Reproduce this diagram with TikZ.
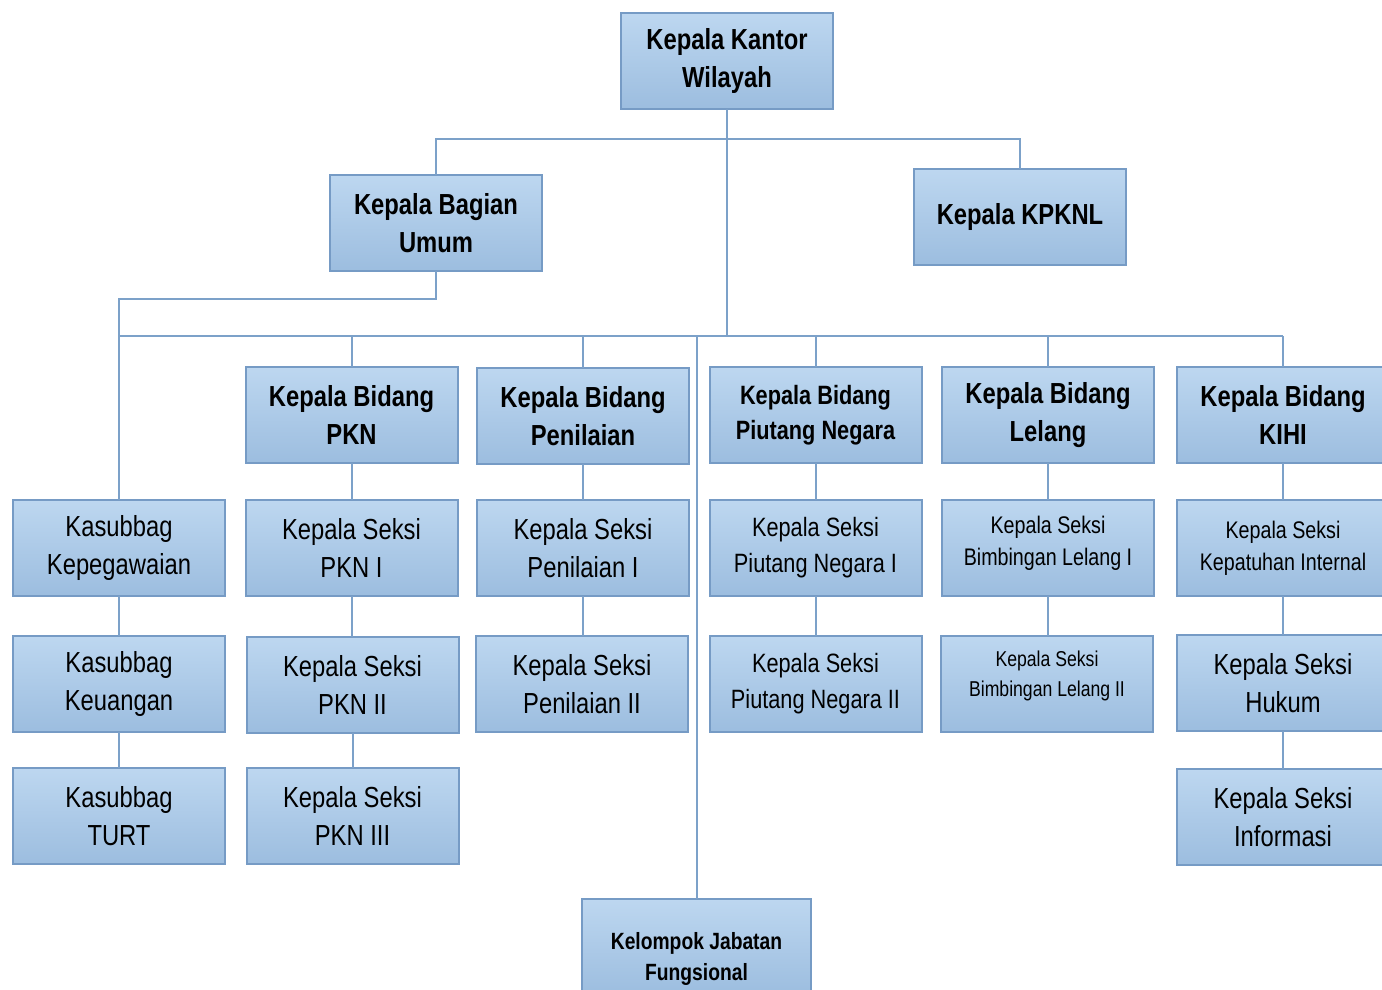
\documentclass[tikz,border=0pt]{standalone}
\usepackage{fontspec}
\setmainfont{Liberation Sans}[FakeStretch=0.82]

\definecolor{garisbiru}{RGB}{124,161,201}
\definecolor{tepibiru}{RGB}{118,155,197}
\definecolor{atasbiru}{RGB}{189,215,240}
\definecolor{bawahbiru}{RGB}{156,189,223}

\tikzset{
	kotak/.style={draw=tepibiru, line width=2pt, top color=atasbiru, bottom color=bawahbiru,
		minimum width=212pt, minimum height=96pt, inner sep=2pt, outer sep=0pt, align=center},
	tebal/.style={font={\bfseries\fontsize{29}{38}\selectfont}},
	biasa/.style={font={\fontsize{29}{38}\selectfont}},
	sedang/.style={font={\fontsize{26.5}{36}\selectfont}},
	kecil/.style={font={\fontsize{24}{32}\selectfont}},
	garis/.style={draw=garisbiru, line width=2pt},
}

\begin{document}
\begin{tikzpicture}[x=1pt, y=-1pt]
	\clip (0,0) rectangle (1382,989);

	% pimpinan
	\node[kotak,tebal] (kakanwil) at (727,61) {Kepala Kantor\\Wilayah};
	\node[kotak,tebal] (kabag) at (436,223) {Kepala Bagian\\Umum};
	\node[kotak,tebal] (kpknl) at (1020,217) {Kepala KPKNL};

	% kepala bidang
	\node[kotak,tebal] (pkn) at (351.5,415) {Kepala Bidang\\PKN};
	\node[kotak,tebal] (penilaian) at (583,416) {Kepala Bidang\\Penilaian};
	\node[kotak,font={\bfseries\fontsize{26.5}{35}\selectfont}] (piutang) at (815.5,415) {Kepala Bidang\\Piutang Negara};
	\node[kotak,tebal] (lelang) at (1048,415) {Kepala Bidang\\Lelang};
	\node[kotak,tebal] (kihi) at (1283,415) {Kepala Bidang\\KIHI};

	% kasubbag dan kepala seksi
	\node[kotak,biasa] (kepeg) at (119,548) {Kasubbag\\Kepegawaian};
	\node[kotak,biasa] (keuangan) at (119,684) {Kasubbag\\Keuangan};
	\node[kotak,biasa] (turt) at (119,816) {Kasubbag\\TURT};

	\node[kotak,biasa] (pkna) at (351.5,548) {Kepala Seksi\\PKN I};
	\node[kotak,biasa] (pknb) at (352.5,685) {Kepala Seksi\\PKN II};
	\node[kotak,biasa] (pknc) at (352.5,816) {Kepala Seksi\\PKN III};

	\node[kotak,biasa] (nilaia) at (583,548) {Kepala Seksi\\Penilaian I};
	\node[kotak,biasa] (nilaib) at (582,684) {Kepala Seksi\\Penilaian II};

	\node[kotak,sedang] (piutanga) at (815.5,548) {Kepala Seksi\\Piutang Negara I};
	\node[kotak,sedang] (piutangb) at (815.5,684) {Kepala Seksi\\Piutang Negara II};

	\node[kotak,kecil] (lelanga) at (1048,548) {Kepala Seksi\\Bimbingan Lelang I\rule[-15pt]{0pt}{15pt}};
	\node[kotak,font={\fontsize{21.5}{30}\selectfont}] (lelangb) at (1047,684) {Kepala Seksi\\Bimbingan Lelang II\rule[-21pt]{0pt}{21pt}};

	\node[kotak,kecil] (kepatuhan) at (1283,548) {Kepala Seksi\\Kepatuhan Internal};
	\node[kotak,biasa] (hukum) at (1283,683) {Kepala Seksi\\Hukum};
	\node[kotak,biasa] (informasi) at (1283,817) {Kepala Seksi\\Informasi};

	\node[kotak,minimum width=229pt,font={\bfseries\fontsize{23.5}{31}\selectfont}] (kjf) at (696.5,947) {\rule{0pt}{40pt}Kelompok Jabatan\\Fungsional};

	% garis penghubung
	\coordinate (busatas) at (0,139);
	\coordinate (belok) at (0,299);
	\coordinate (bus) at (0,336);

	\draw[garis] (kakanwil.south) -- (kakanwil.south |- bus);
	\draw[garis] (kabag.north) |- (kpknl.north |- busatas) -- (kpknl.north);
	\draw[garis] (kabag.south) |- (kepeg.north |- belok) -- (kepeg.north);
	\draw[garis] (kepeg.north |- bus) -- (kihi.north |- bus);
	\foreach \n in {pkn,penilaian,piutang,lelang,kihi,kjf}
		\draw[garis] (\n.north) -- (\n.north |- bus);
	\foreach \a/\b in {kepeg/keuangan,keuangan/turt,pkn/pkna,pkna/pknb,pknb/pknc,
		penilaian/nilaia,nilaia/nilaib,piutang/piutanga,piutanga/piutangb,
		lelang/lelanga,lelanga/lelangb,kihi/kepatuhan,kepatuhan/hukum,hukum/informasi}
		\draw[garis] (\a.south) -- (\a.south |- \b.north);
\end{tikzpicture}
\end{document}
